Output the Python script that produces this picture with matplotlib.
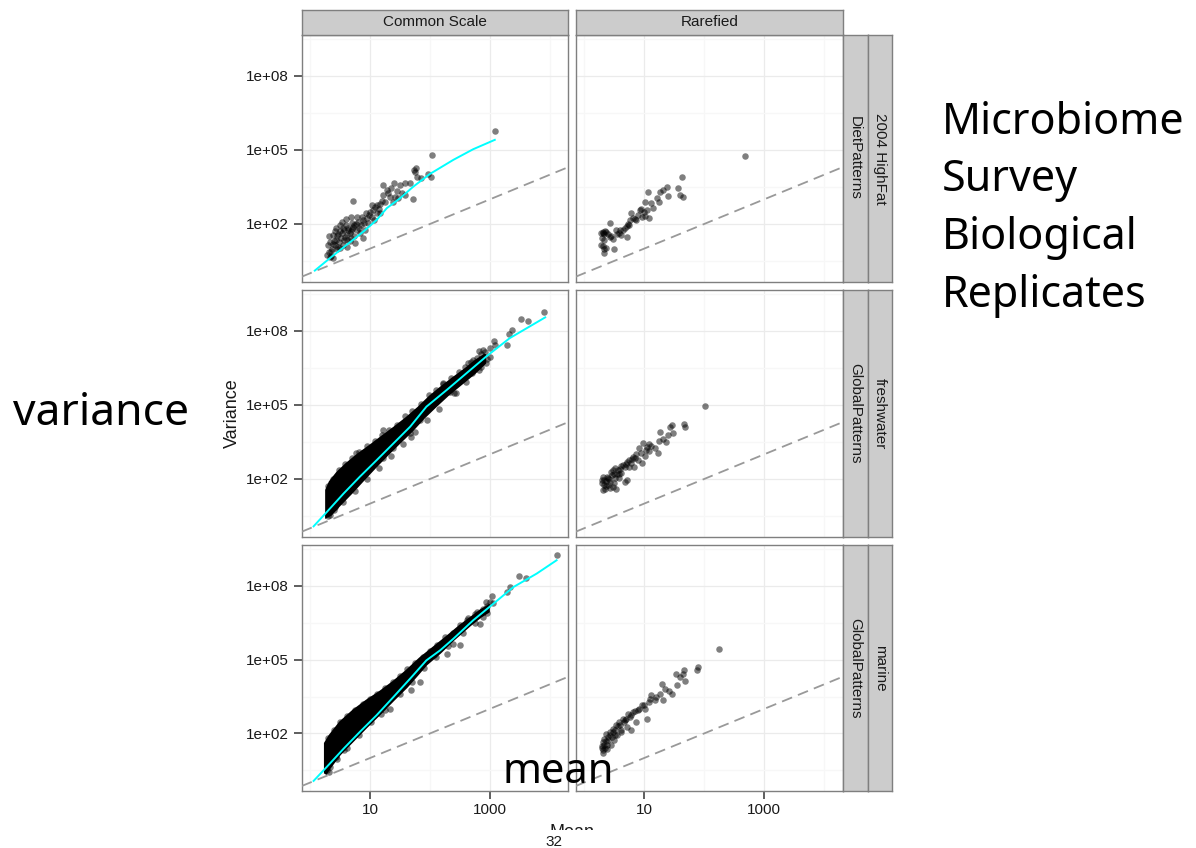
"""Mean-variance of OTU counts: common scale vs rarefied, three surveys."""

import matplotlib

matplotlib.use("Agg")
import matplotlib.pyplot as plt  # noqa: E402
import numpy as np  # noqa: E402
from matplotlib.patches import Rectangle  # noqa: E402

plt.rcParams["font.family"] = ["Liberation Sans", "DejaVu Sans"]

# all values are (log10 mean, log10 variance)
COLUMNS = ["Common Scale", "Rarefied"]
ROW_STRIPS = [("DietPatterns", "2004 HighFat"),
              ("GlobalPatterns", "freshwater"),
              ("GlobalPatterns", "marine")]

X_TICKS = [10, 1000]
X_TICK_LABELS = ["10", "1000"]
Y_TICKS = [1e2, 1e5, 1e8]
Y_TICK_LABELS = ["1e+02", "1e+05", "1e+08"]

DIET_COMMON = [
    (3.08, 5.78), (2.04, 4.78), (1.76, 4.28), (1.73, 4.19), (1.79, 3.92), (1.85, 3.88),
    (1.97, 4.03), (2.02, 3.92), (0.72, 2.93), (1.22, 3.58), (1.40, 3.68), (1.50, 3.58),
    (1.59, 3.68), (1.66, 3.68), (1.53, 3.27), (1.58, 3.18), (1.41, 3.08), (1.28, 3.38),
    (1.22, 3.18), (1.25, 2.91), (1.16, 2.81), (1.08, 2.70), (1.03, 2.77), (0.94, 2.46),
    (1.11, 2.43), (1.03, 2.30), (0.89, 2.16), (0.79, 2.30), (0.69, 2.30), (0.53, 2.09),
    (0.72, 1.89), (0.64, 1.76), (0.78, 1.76), (0.67, 1.62), (0.58, 1.49), (0.44, 1.82),
    (0.39, 1.55), (0.31, 1.51), (0.33, 1.28), (0.42, 1.15), (0.47, 1.08), (0.31, 0.88),
    (0.33, 0.68), (0.39, 0.61), (0.50, 1.01), (0.61, 1.08), (0.83, 1.62), (0.97, 2.03),
    (1.06, 2.16), (0.92, 1.76), (0.56, 1.35), (0.44, 1.35), (0.69, 1.42), (0.75, 1.22),
    (0.53, 1.62), (1.17, 2.43), (0.89, 1.42), (1.33, 3.11), (1.47, 3.04), (1.39, 2.91),
    (1.72, 3.00), (1.75, 4.12), (0.50, 1.70), (0.60, 1.95), (0.70, 2.05), (0.85, 1.95),
    (0.80, 2.10), (0.62, 1.55), (0.48, 1.25), (0.36, 1.00), (0.40, 1.30), (0.55, 1.85),
    (0.95, 2.25), (1.00, 2.50), (1.15, 2.60), (0.73, 1.50), (0.66, 1.30),
    (0.35, 0.90), (0.38, 1.20), (0.45, 1.50), (0.52, 1.45), (0.57, 1.75), (0.63, 1.85),
    (0.68, 1.70), (0.74, 1.95), (0.82, 1.85), (0.86, 2.30), (0.90, 2.05), (0.98, 2.35),
    (1.05, 2.55), (1.12, 2.75), (1.20, 2.95), (1.30, 3.25), (1.35, 3.45), (1.45, 3.35),
    (0.60, 2.20), (0.50, 1.95), (0.42, 1.70), (0.30, 1.15), (0.28, 0.75), (0.35, 0.70),
    (0.47, 1.60), (0.70, 1.80), (0.77, 2.00), (0.55, 1.15), (0.62, 1.35), (0.45, 1.00),
]
DIET_COMMON_FIT = [
    (0.08, 0.11), (0.33, 0.61), (0.61, 1.15), (0.89, 1.69), (1.11, 2.16), (1.28, 2.64),
    (1.50, 3.04), (1.72, 3.51), (2.00, 4.03), (2.39, 4.60), (2.72, 5.03), (3.08, 5.41),
]
DIET_RARE = [
    (2.68, 4.76), (1.63, 3.92), (1.57, 3.47), (1.59, 3.18), (1.64, 3.08), (1.40, 3.14),
    (1.38, 3.51), (1.32, 3.38), (1.26, 3.31), (1.06, 3.30), (1.01, 2.88), (1.12, 2.86),
    (1.24, 2.91), (1.14, 2.64), (1.09, 2.23), (1.01, 2.32), (0.96, 2.30), (0.79, 2.43),
    (0.77, 2.16), (0.73, 2.00), (0.65, 1.76), (0.59, 1.62), (0.53, 1.76), (0.43, 2.05),
    (0.37, 1.69), (0.32, 1.62), (0.29, 1.65), (0.34, 1.35), (0.43, 1.46), (0.48, 1.38),
    (0.32, 1.11), (0.36, 1.01), (0.50, 0.97), (0.34, 0.81), (0.71, 1.49), (0.82, 2.23),
    (0.87, 2.16), (0.62, 1.55), (0.93, 2.57), (1.21, 3.04),
    (0.30, 1.45), (0.33, 1.60), (0.35, 1.70), (0.31, 1.68), (0.40, 1.60), (0.45, 1.50),
    (0.55, 1.60), (0.60, 1.75), (0.68, 1.85), (0.75, 1.95), (0.72, 1.90), (0.85, 2.20),
    (0.90, 2.35), (1.00, 2.50), (1.05, 2.55), (0.95, 2.60), (0.28, 1.15), (0.33, 1.00),
]

FRESH_BAND_UPPER = [
    (0.27, 0.50), (0.27, 1.55), (0.33, 1.88), (0.45, 2.25), (0.60, 2.60), (0.80, 3.00),
    (1.00, 3.35), (1.20, 3.72), (1.40, 4.08), (1.60, 4.46), (1.80, 4.88), (2.00, 5.35),
    (2.20, 5.75), (2.40, 6.12), (2.60, 6.48), (2.75, 6.78), (2.92, 7.05),
]
FRESH_BAND_LOWER = [
    (0.27, 0.45), (0.35, 0.55), (0.50, 0.95), (0.70, 1.45), (0.90, 1.98), (1.10, 2.50),
    (1.30, 3.00), (1.50, 3.48), (1.70, 3.95), (1.90, 4.48), (2.10, 4.95), (2.30, 5.40),
    (2.50, 5.80), (2.75, 6.30), (2.92, 6.70),
]
FRESH_COMMON = [
    (3.90, 8.78), (3.52, 8.48), (3.64, 8.39), (3.36, 8.02), (3.32, 7.89), (3.06, 7.60),
    (3.28, 7.44), (2.82, 7.20), (2.89, 7.21), (3.00, 6.94), (2.63, 6.69), (2.81, 6.42),
    (2.50, 6.15), (2.44, 5.47), (2.33, 5.54), (1.83, 4.39), (1.69, 3.71), (1.66, 3.85),
    (1.22, 2.83), (1.39, 3.24), (0.77, 3.04), (1.22, 3.98), (0.44, 1.41), (0.33, 0.53),
    (0.31, 0.66), (0.42, 0.87), (0.53, 1.27), (2.06, 5.34), (2.22, 5.88), (2.72, 6.83),
    (2.94, 6.69), (2.39, 6.02),
    (0.30, 1.70), (0.38, 2.00), (0.48, 2.35), (0.58, 2.60), (0.70, 2.85), (0.82, 3.10),
    (0.95, 3.35), (1.08, 3.55), (1.20, 3.80), (1.32, 4.00), (1.45, 4.20), (1.58, 4.55),
    (1.70, 4.75), (1.85, 5.05), (1.98, 5.40), (2.10, 5.60), (2.22, 5.85), (2.35, 6.10),
    (2.48, 6.35), (2.58, 6.55), (2.68, 6.75), (2.78, 6.90), (2.85, 7.05), (2.92, 7.15),
    (3.00, 7.30), (3.08, 7.42), (0.30, 0.50), (0.40, 0.75), (0.55, 1.05), (0.75, 1.50),
    (0.95, 2.00), (1.15, 2.45), (1.35, 2.95), (1.55, 3.40), (1.75, 3.90), (1.95, 4.40),
    (2.15, 4.85), (2.40, 5.50), (2.60, 5.95), (2.70, 6.30), (2.85, 6.55), (2.95, 6.85),
]
FRESH_COMMON_FIT = [
    (0.06, 0.08), (0.28, 0.66), (0.56, 1.41), (0.83, 2.09), (1.11, 2.76), (1.39, 3.44),
    (1.67, 4.12), (1.94, 4.93), (2.28, 5.61), (2.61, 6.29), (2.94, 6.97), (3.33, 7.71),
    (3.92, 8.55),
]
FRESH_RARE = [
    (2.01, 4.97), (1.66, 4.23), (1.68, 4.12), (1.46, 4.19), (1.48, 3.85), (1.40, 3.78),
    (1.27, 3.92), (1.32, 3.64), (1.25, 3.55), (1.37, 3.51), (0.99, 3.47), (1.08, 3.41),
    (1.18, 3.24), (1.23, 3.06), (0.92, 3.24), (1.03, 3.17), (1.01, 2.93), (0.97, 2.63),
    (0.90, 2.76), (0.82, 2.90), (0.75, 2.76), (0.71, 2.70), (0.83, 2.47), (0.68, 2.47),
    (0.62, 2.52), (0.57, 2.38), (0.48, 2.36), (0.46, 2.15), (0.40, 2.02), (0.34, 1.95),
    (0.32, 2.08), (0.30, 1.82), (0.37, 1.71), (0.31, 1.57), (0.48, 1.68), (0.54, 1.61),
    (0.72, 1.95), (0.69, 1.88), (0.59, 2.22), (0.79, 2.63), (0.43, 1.88), (0.51, 2.02),
    (0.87, 3.01), (1.09, 3.12), (1.43, 4.12),
    (0.33, 1.75), (0.36, 1.90), (0.38, 2.10), (0.42, 2.00), (0.45, 2.30), (0.50, 2.20),
    (0.52, 2.45), (0.55, 2.20), (0.60, 2.40), (0.65, 2.55), (0.70, 2.60), (0.75, 2.50),
    (0.80, 2.80), (0.85, 2.85), (0.95, 3.05), (1.05, 3.30), (1.12, 3.35), (0.30, 1.95),
    (0.35, 1.60), (0.40, 1.75), (0.44, 1.65), (0.50, 1.85), (0.58, 2.05), (0.62, 2.25),
]

MARINE_BAND_UPPER = [
    (0.25, 0.40), (0.25, 1.60), (0.33, 1.92), (0.50, 2.45), (0.72, 2.93), (0.94, 3.33),
    (1.17, 3.70), (1.39, 4.10), (1.61, 4.55), (1.83, 5.05), (2.06, 5.50), (2.28, 5.93),
    (2.50, 6.38), (2.72, 6.78), (2.85, 7.02), (2.98, 7.20),
]
MARINE_BAND_LOWER = [
    (0.27, 0.37), (0.33, 0.60), (0.50, 1.15), (0.72, 1.70), (0.94, 2.25), (1.17, 2.80),
    (1.39, 3.35), (1.61, 3.88), (1.78, 4.35), (1.94, 4.80), (2.17, 5.28), (2.39, 5.80),
    (2.67, 6.40), (2.85, 6.75), (2.98, 6.95),
]
MARINE_COMMON = [
    (4.11, 9.24), (3.48, 8.41), (3.60, 8.33), (3.33, 7.95), (3.29, 7.75), (3.04, 7.57),
    (2.93, 7.34), (3.00, 7.34), (2.89, 6.73), (2.64, 6.71), (2.78, 6.94), (2.50, 5.58),
    (2.28, 5.24), (2.39, 5.65), (1.83, 4.09), (1.69, 3.75), (1.18, 2.80), (1.33, 3.01),
    (0.56, 1.31), (0.28, 0.50), (0.33, 0.64), (0.44, 1.04), (2.83, 6.46), (2.06, 5.18),
    (0.30, 1.80), (0.40, 2.15), (0.50, 2.45), (0.62, 2.70), (0.75, 2.95), (0.88, 3.20),
    (1.00, 3.40), (1.12, 3.60), (1.25, 3.85), (1.38, 4.10), (1.50, 4.35), (1.62, 4.60),
    (1.75, 4.85), (1.88, 5.10), (2.00, 5.35), (2.12, 5.60), (2.25, 5.90), (2.38, 6.10),
    (2.50, 6.40), (2.62, 6.60), (2.75, 6.85), (2.88, 7.05), (2.95, 7.20), (3.05, 7.30),
    (0.32, 0.45), (0.45, 0.95), (0.62, 1.40), (0.82, 1.95), (1.02, 2.45), (1.25, 2.95),
    (1.50, 3.60), (1.70, 4.10), (1.90, 4.65), (2.10, 5.10), (2.30, 5.55), (2.55, 6.10),
    (2.75, 6.50), (2.95, 6.90),
]
MARINE_COMMON_FIT = [
    (0.06, 0.07), (0.28, 0.64), (0.56, 1.38), (0.83, 2.06), (1.11, 2.74), (1.39, 3.48),
    (1.67, 4.23), (1.94, 4.97), (2.17, 5.38), (2.39, 5.85), (2.72, 6.60), (3.06, 7.28),
    (3.39, 7.95), (3.78, 8.50), (4.11, 9.04),
]
MARINE_RARE = [
    (1.89, 4.70), (1.88, 4.57), (1.67, 4.59), (1.65, 4.43), (1.53, 4.43), (1.59, 4.30),
    (1.68, 4.13), (1.29, 4.02), (1.55, 3.98), (1.42, 3.73), (1.46, 3.62), (1.26, 3.62),
    (1.12, 3.55), (1.18, 3.35), (1.09, 3.28), (1.31, 3.37), (1.05, 2.60), (1.01, 3.01),
    (0.96, 3.14), (0.90, 2.94), (0.82, 2.87), (0.76, 2.67), (0.87, 2.47), (0.79, 2.13),
    (0.71, 2.26), (0.65, 2.60), (0.59, 2.47), (0.54, 2.33), (0.48, 2.20), (0.43, 2.06),
    (0.37, 1.99), (0.34, 1.79), (0.32, 1.65), (0.40, 1.72), (0.46, 1.86), (0.51, 1.92),
    (0.62, 2.13), (0.68, 2.53), (0.73, 2.78), (2.25, 5.42), (0.31, 1.31), (0.35, 1.40),
    (0.30, 1.50), (0.38, 1.55),
    (0.30, 1.40), (0.33, 1.55), (0.36, 1.70), (0.40, 1.85), (0.44, 1.95), (0.48, 2.05),
    (0.52, 2.15), (0.56, 2.30), (0.60, 2.35), (0.66, 2.45), (0.70, 2.60), (0.78, 2.75),
    (0.85, 2.90), (0.92, 3.00), (1.00, 3.15), (1.10, 3.40), (1.20, 3.50), (1.35, 3.80),
    (0.32, 1.20), (0.38, 1.35), (0.45, 1.55), (0.50, 1.75), (0.55, 1.95), (0.62, 2.05),
]

# (points, dense band upper, dense band lower, fitted curve) per row / column
PANELS = [
    [(DIET_COMMON, None, None, DIET_COMMON_FIT), (DIET_RARE, None, None, None)],
    [(FRESH_COMMON, FRESH_BAND_UPPER, FRESH_BAND_LOWER, FRESH_COMMON_FIT),
     (FRESH_RARE, None, None, None)],
    [(MARINE_COMMON, MARINE_BAND_UPPER, MARINE_BAND_LOWER, MARINE_COMMON_FIT),
     (MARINE_RARE, None, None, None)],
]

ANNOT_LINES = ["Microbiome", "Survey", "Biological", "Replicates"]

W, H = 1196, 848
COL_PX = [(301.7, 568.3), (575.7, 842.7)]
ROW_PX = [(35, 281.7), (290, 536.7), (545, 791)]
XLIM = (10 ** -0.138, 10 ** 4.305)
YLIM = (10 ** -0.34, 10 ** 9.66)
BORDER = "#7f7f7f"
STRIP_BG = "#cccccc"


def box(x0, y0, x1, y1):
    return [x0 / W, 1 - y1 / H, (x1 - x0) / W, (y1 - y0) / H]


def strip(fig, rect, label, rotation=0):
    s = fig.add_axes(rect)
    s.set_facecolor(STRIP_BG)
    s.set_xticks([])
    s.set_yticks([])
    for sp in s.spines.values():
        sp.set_color(BORDER)
        sp.set_linewidth(1.0)
    s.text(0.5, 0.5, label, transform=s.transAxes, ha="center", va="center",
           rotation=rotation, fontsize=11, color="#1a1a1a")


def xy(pairs):
    a = np.array(pairs, dtype=float)
    return 10 ** a[:, 0], 10 ** a[:, 1]


def main() -> None:
    fig = plt.figure(figsize=(W / 100, H / 100), dpi=100)

    for r, (y0, y1) in enumerate(ROW_PX):
        for c, (x0, x1) in enumerate(COL_PX):
            ax = fig.add_axes(box(x0, y0, x1, y1))
            ax.set_xscale("log")
            ax.set_yscale("log")
            ax.set_xlim(*XLIM)
            ax.set_ylim(*YLIM)
            ax.set_xticks(X_TICKS, X_TICK_LABELS)
            ax.set_xticks([1, 100, 10000], minor=True)
            ax.set_yticks(Y_TICKS, Y_TICK_LABELS)
            ax.set_yticks([10 ** 0.5, 10 ** 3.5, 10 ** 6.5, 10 ** 9.5], minor=True)
            ax.xaxis.set_minor_formatter(matplotlib.ticker.NullFormatter())
            ax.yaxis.set_minor_formatter(matplotlib.ticker.NullFormatter())
            ax.grid(which="major", color="#ebebeb", linewidth=0.9)
            ax.grid(which="minor", color="#f7f7f7", linewidth=0.9)
            ax.set_axisbelow(True)
            for sp in ax.spines.values():
                sp.set_color(BORDER)
                sp.set_linewidth(1.0)
            ax.tick_params(which="major", length=6, width=1.1, color="#333333",
                           labelsize=11, labelcolor="#1a1a1a", pad=3)
            ax.tick_params(which="minor", length=0)
            if r < 2:
                ax.tick_params(axis="x", which="major", length=0, labelbottom=False)
            if c > 0:
                ax.tick_params(axis="y", which="major", length=0, labelleft=False)

            points, upper, lower, fit = PANELS[r][c]
            if upper is not None:
                bx, by = xy(upper + lower[::-1])
                ax.fill(bx, by, color="black", linewidth=1.5, zorder=2)
            px, py = xy(points)
            ax.scatter(px, py, s=22, color="black", alpha=0.5, linewidths=0, zorder=3)
            ax.axline((1, 1), (10, 10), color="#999999", linewidth=1.3,
                      linestyle=(0, (6, 3.5)), zorder=4)
            if fit is not None:
                fx, fy = xy(fit)
                ax.plot(fx, fy, color="#00ffff", linewidth=1.4, zorder=5)

        strip(fig, box(842.7, y0, 867.7, y1), ROW_STRIPS[r][0], rotation=-90)
        strip(fig, box(867.7, y0, 891.7, y1), ROW_STRIPS[r][1], rotation=-90)

    for c, (x0, x1) in enumerate(COL_PX):
        strip(fig, box(x0, 10, x1, 35), COLUMNS[c])

    fig.text(232 / W, 1 - 413 / H, "Variance", rotation=90, ha="center", va="center",
             fontsize=13, color="#1a1a1a")
    fig.text(571.7 / W, 1 - 824 / H, "Mean", ha="center", va="top",
             fontsize=13, color="#1a1a1a")
    fig.add_artist(Rectangle((0, 0), 1, 1 - 830 / H, transform=fig.transFigure,
                             facecolor="white", edgecolor="none", zorder=4))
    fig.text(554 / W, 1 - 842 / H, "32", ha="center", va="center",
             fontsize=11, color="#1a1a1a", zorder=5)

    hand = ["Noto Sans", "DejaVu Sans"]
    fig.text(13 / W, 1 - 425 / H, "variance", family=hand, fontsize=32,
             ha="left", va="baseline")
    fig.text(503 / W, 1 - 782.7 / H, "mean", family=hand, fontsize=30,
             ha="left", va="baseline")
    for i, line in enumerate(ANNOT_LINES):
        fig.text(941.7 / W, 1 - (134 + 57.5 * i) / H, line, family=hand,
                 fontsize=31, ha="left", va="baseline")

    fig.savefig("out.png", dpi=100)


if __name__ == "__main__":
    main()
